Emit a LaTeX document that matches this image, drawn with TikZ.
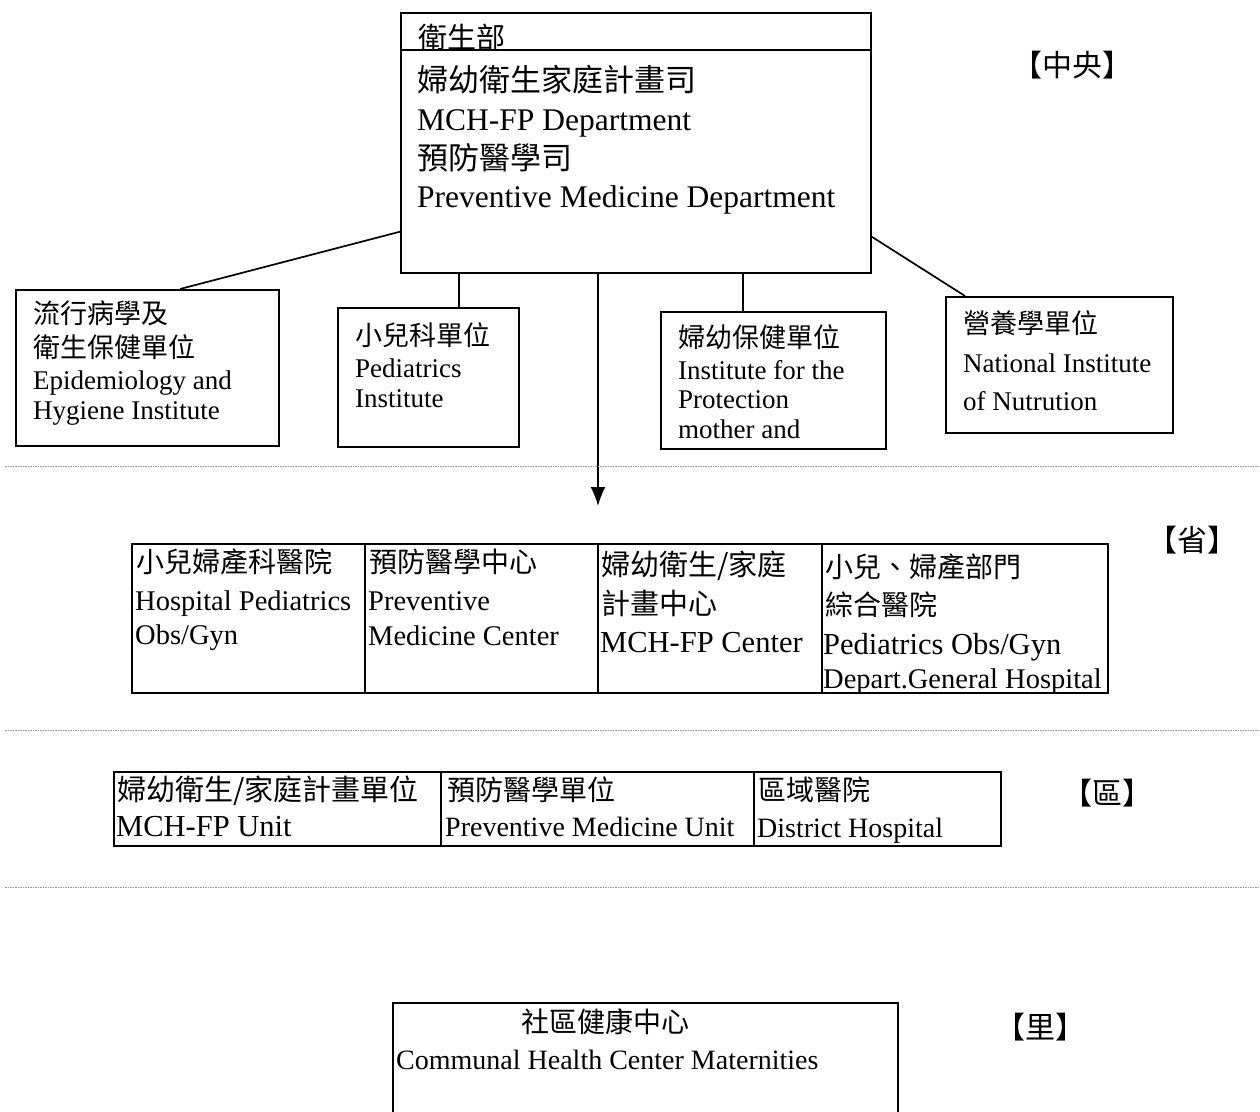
\documentclass[tikz,border=0pt]{standalone}
\usepackage{fontspec}
\setmainfont{Liberation Serif}
\newfontfamily\cjkf{Noto Sans CJK TC}
\usetikzlibrary{arrows.meta,calc}
\begin{document}
\begin{tikzpicture}[x=1pt,y=-1pt,
 boxs/.style={draw,line width=1.7pt,inner sep=0pt,anchor=north west},
 entxt/.style={font=\fontsize{27}{30}\selectfont,anchor=base west,inner sep=0pt},
 cjtxt/.style={font=\cjkf\fontsize{27}{30}\selectfont,anchor=base west,inner sep=0pt},
 enbig/.style={font=\fontsize{31.5}{34}\selectfont,anchor=base west,inner sep=0pt},
 cjbig/.style={font=\cjkf\fontsize{31}{34}\selectfont,anchor=base west,inner sep=0pt},
 enmid/.style={font=\fontsize{28.5}{30}\selectfont,anchor=base west,inner sep=0pt},
 cjmid/.style={font=\cjkf\fontsize{28}{30}\selectfont,anchor=base west,inner sep=0pt},
 conn/.style={line width=1.7pt},
 sepline/.style={gray!80,line width=0.9pt,dash pattern=on 1.5pt off 1pt},
 lvl/.style={font=\cjkf\fontsize{30}{32}\selectfont,inner sep=0pt}]
\useasboundingbox (0,0) rectangle (1260,1111);
\fill[white] (0,0) rectangle (1260,1111);
\clip (0,0) rectangle (1260,1111);

% ---------- central ----------
\node[boxs,minimum width=470pt,minimum height=260pt] (top) at (400,12) {};
\draw[conn] ([yshift=-38pt]top.north west) -- ([yshift=-38pt]top.north east);
\node[cjtxt,font=\cjkf\fontsize{29}{30}\selectfont] (hdr) at (418,48) {衛生部};
\node[cjbig] (t1) at (417,91) {婦幼衛生家庭計畫司};
\node[enbig] (t2) at (417,130) {MCH-FP Department};
\node[cjbig] (t3) at (417,169) {預防醫學司};
\node[enbig] (t4) at (417,207) {Preventive Medicine Department};

\node[lvl] (lv1) at (1072,65) {【中央】};

% institutes
\node[boxs,minimum width=263pt,minimum height=156pt] (epi) at (15,289) {};
\node[cjtxt] (e1) at (33,323) {流行病學及};
\node[cjtxt] (e2) at (33,357) {衛生保健單位};
\node[entxt] (e3) at (33,389) {Epidemiology and};
\node[entxt] (e4) at (33,419) {Hygiene Institute};

\node[boxs,minimum width=181pt,minimum height=139pt] (ped) at (337,307) {};
\node[cjtxt] (p1) at (355,345) {小兒科單位};
\node[entxt] (p2) at (355,377) {Pediatrics};
\node[entxt] (p3) at (355,407) {Institute};

\node[boxs,minimum width=225pt,minimum height=137pt] (mch) at (660,311) {};
\node[cjtxt] (m1) at (678,347) {婦幼保健單位};
\node[entxt] (m2) at (678,379) {Institute for the};
\node[entxt] (m3) at (678,408) {Protection};
\node[entxt] (m4) at (678,438) {mother and};

\node[boxs,minimum width=227pt,minimum height=136pt] (nut) at (945,296) {};
\node[cjtxt] (n1) at (963,333) {營養學單位};
\node[entxt] (n2) at (963,372) {National Institute};
\node[entxt] (n3) at (963,410) {of Nutrution};

% connectors
\draw[conn] ([yshift=42pt]top.south west) -- ([xshift=165pt]epi.north west);
\draw[conn] ([yshift=37pt]top.south east) -- ([xshift=20pt]nut.north west);
\coordinate (v1) at ([xshift=59pt]top.south west);
\coordinate (v2) at ([xshift=198pt]top.south west);
\coordinate (v3) at ([xshift=343pt]top.south west);
\coordinate (arrEnd) at (598,506);
\draw[conn] (v1) -- (v1 |- ped.north);
\draw[conn] (v3) -- (v3 |- mch.north);
\draw[conn,-{Latex[length=19pt,width=15pt]}] (v2) -- (arrEnd);

\draw[sepline] (5,466) -- (1260,466);

% ---------- province ----------
\node[lvl] (lv2) at (1192,540) {【省】};
\node[boxs,minimum width=233pt,minimum height=149pt] (c1) at (131,543) {};
\node[boxs,minimum width=233pt,minimum height=149pt] (c2) at (364,543) {};
\node[boxs,minimum width=224pt,minimum height=149pt] (c3) at (597,543) {};
\node[boxs,minimum width=286pt,minimum height=149pt] (c4) at (821,543) {};
\node[cjmid] (a1) at (136,572) {小兒婦產科醫院};
\node[enmid] (a2) at (135,610) {Hospital Pediatrics};
\node[enmid] (a3) at (135,644) {Obs/Gyn};
\node[cjmid] (b1) at (369,572) {預防醫學中心};
\node[enmid] (b2) at (368,610) {Preventive};
\node[enmid] (b3) at (368,645) {Medicine Center};
\node[cjmid,font=\cjkf\fontsize{29}{30}\selectfont] (d1) at (601,575) {婦幼衛生/家庭};
\node[cjmid,font=\cjkf\fontsize{29}{30}\selectfont] (d2) at (601,614) {計畫中心};
\node[enmid,font=\fontsize{30.5}{32}\selectfont] (d3) at (600,652) {MCH-FP Center};
\node[cjmid] (f1) at (825,577) {小兒、婦產部門};
\node[cjmid] (f2) at (825,615) {綜合醫院};
\node[enmid,font=\fontsize{30.5}{32}\selectfont] (f3) at (823,654) {Pediatrics Obs/Gyn};
\node[enmid] (f4) at (823,688) {Depart.General Hospital};

\draw[sepline] (5,730) -- (1260,730);

% ---------- district ----------
\node[lvl] (lv3) at (1107,793) {【區】};
\node[boxs,minimum width=327pt,minimum height=74pt] (g1) at (113,771) {};
\node[boxs,minimum width=313pt,minimum height=74pt] (g2) at (440,771) {};
\node[boxs,minimum width=247pt,minimum height=74pt] (g3) at (753,771) {};
\node[cjmid,font=\cjkf\fontsize{29}{30}\selectfont] (h1) at (117,800) {婦幼衛生/家庭計畫單位};
\node[enmid,font=\fontsize{30.5}{32}\selectfont] (h2) at (116,836) {MCH-FP Unit};
\node[cjmid] (h3) at (447,800) {預防醫學單位};
\node[enmid,font=\fontsize{28}{30}\selectfont] (h4) at (445,836) {Preventive Medicine Unit};
\node[cjmid] (h5) at (758,800) {區域醫院};
\node[enmid,font=\fontsize{28}{30}\selectfont] (h6) at (757,837) {District Hospital};

\draw[sepline] (5,887) -- (1260,887);

% ---------- village ----------
\node[lvl] (lv4) at (1040,1027) {【里】};
\node[boxs,minimum width=505pt,minimum height=140pt] (com) at (392,1002) {};
\node[cjmid,anchor=base] (k1) at (605,1032) {社區健康中心};
\node[enmid,font=\fontsize{28}{30}\selectfont] (k2) at (396,1069) {Communal Health Center Maternities};
\end{tikzpicture}
\end{document}
